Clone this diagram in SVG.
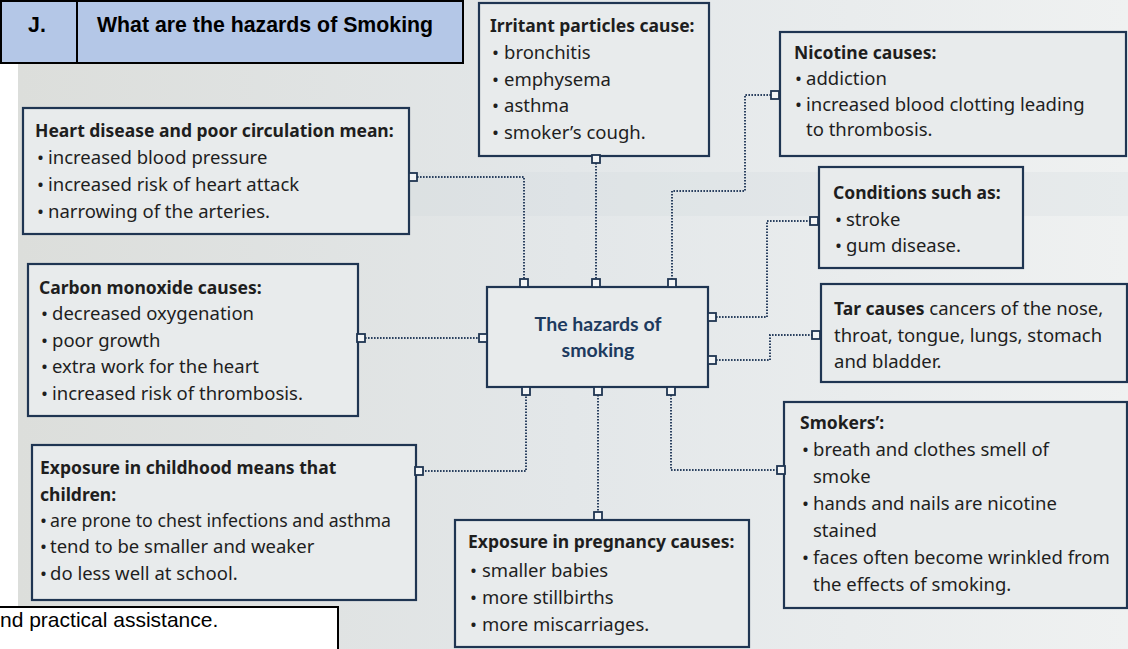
<svg xmlns="http://www.w3.org/2000/svg" width="1128" height="649" viewBox="0 0 1128 649">
<defs>
<linearGradient id="bg" x1="0" y1="0" x2="1" y2="0">
<stop offset="0" stop-color="#dcdedb"/>
<stop offset="0.5" stop-color="#e3e7e9"/>
<stop offset="1" stop-color="#eff1f1"/>
</linearGradient>
<style>
.bx{fill:#e8ebec;stroke:#1f3552;stroke-width:2.2}
.pt{fill:#f3f5f6;stroke:#1f3552;stroke-width:1.8}
.cn{fill:none;stroke:#2b4160;stroke-width:2;stroke-dasharray:1.6 1.4}
.t{font-family:"Noto Sans",Lato,sans-serif;font-size:18.5px;fill:#1e1e1e}
.b{font-weight:700;font-size:17.5px}
.c{font-family:Lato,"Noto Sans",sans-serif;font-weight:700;font-size:19.5px;fill:#1d3a5e;text-anchor:middle}
.h{font-family:"Liberation Sans",Arial,sans-serif;font-weight:700;font-size:21.3px;fill:#000}
</style>
</defs>
<rect x="0" y="0" width="1128" height="649" fill="#ffffff"/>
<rect x="18" y="0" width="1110" height="649" fill="url(#bg)"/>
<rect x="355" y="172" width="773" height="44" fill="#cfd6db" opacity="0.22"/>

<g id="connectors">
<path class="cn" d="M417,177 H524 V279"/>
<path class="cn" d="M596,163 V279"/>
<path class="cn" d="M771,95 H745 V191 H672 V279"/>
<path class="cn" d="M716,317 H767 V221 H810"/>
<path class="cn" d="M716,360 H770 V335 H812"/>
<path class="cn" d="M365,338 H479"/>
<path class="cn" d="M419,471 H526 V395"/>
<path class="cn" d="M598,395 V512"/>
<path class="cn" d="M671,395 V470 H777"/>
</g>

<g id="header">
<rect x="1" y="1" width="462" height="62" fill="#b4c7e7" stroke="#000" stroke-width="2"/>
<line x1="77" y1="1" x2="77" y2="63" stroke="#000" stroke-width="2"/>
<text class="h" x="37" y="32" text-anchor="middle">J.</text>
<text class="h" x="97" y="32">What are the hazards of Smoking</text>
</g>

<g id="heart">
<rect class="bx" x="23" y="108" width="386" height="126"/>
<text class="t b" x="35" y="137">Heart disease and poor circulation mean:</text>
<text class="t" x="37" y="164">•<tspan x="48">increased blood pressure</tspan></text>
<text class="t" x="37" y="191">•<tspan x="48">increased risk of heart attack</tspan></text>
<text class="t" x="37" y="218">•<tspan x="48">narrowing of the arteries.</tspan></text>
<rect class="pt" x="409" y="173" width="8" height="8"/>
</g>

<g id="irritant">
<rect class="bx" x="479" y="3" width="230" height="153"/>
<text class="t b" x="490" y="32">Irritant particles cause:</text>
<text class="t" x="492" y="59">•<tspan x="504">bronchitis</tspan></text>
<text class="t" x="492" y="86">•<tspan x="504">emphysema</tspan></text>
<text class="t" x="492" y="112">•<tspan x="504">asthma</tspan></text>
<text class="t" x="492" y="139">•<tspan x="504">smoker’s cough.</tspan></text>
<rect class="pt" x="592" y="155" width="8" height="8"/>
</g>

<g id="nicotine">
<rect class="bx" x="780" y="32" width="346" height="124"/>
<text class="t b" x="794" y="59">Nicotine causes:</text>
<text class="t" x="795" y="85">•<tspan x="806">addiction</tspan></text>
<text class="t" x="795" y="111">•<tspan x="806">increased blood clotting leading</tspan></text>
<text class="t" x="806" y="136">to thrombosis.</text>
<rect class="pt" x="771" y="91" width="8" height="8"/>
</g>

<g id="conditions">
<rect class="bx" x="819" y="167" width="204" height="101"/>
<text class="t b" x="833" y="199">Conditions such as:</text>
<text class="t" x="835" y="226">•<tspan x="846">stroke</tspan></text>
<text class="t" x="835" y="252">•<tspan x="846">gum disease.</tspan></text>
<rect class="pt" x="810" y="217" width="8" height="8"/>
</g>

<g id="carbon">
<rect class="bx" x="28" y="264" width="330" height="152"/>
<text class="t b" x="39" y="294">Carbon monoxide causes:</text>
<text class="t" x="41" y="320">•<tspan x="52">decreased oxygenation</tspan></text>
<text class="t" x="41" y="347">•<tspan x="52">poor growth</tspan></text>
<text class="t" x="41" y="373">•<tspan x="52">extra work for the heart</tspan></text>
<text class="t" x="41" y="400">•<tspan x="52">increased risk of thrombosis.</tspan></text>
<rect class="pt" x="357" y="334" width="8" height="8"/>
</g>

<g id="centre">
<rect class="bx" x="487" y="287" width="221" height="100"/>
<text class="c" x="598" y="331">The hazards of</text>
<text class="c" x="598" y="357">smoking</text>
<rect class="pt" x="520" y="279" width="8" height="8"/>
<rect class="pt" x="592" y="279" width="8" height="8"/>
<rect class="pt" x="668" y="279" width="8" height="8"/>
<rect class="pt" x="522" y="387" width="8" height="8"/>
<rect class="pt" x="594" y="387" width="8" height="8"/>
<rect class="pt" x="667" y="387" width="8" height="8"/>
<rect class="pt" x="479" y="334" width="8" height="8"/>
<rect class="pt" x="708" y="313" width="8" height="8"/>
<rect class="pt" x="708" y="356" width="8" height="8"/>
</g>

<g id="tar">
<rect class="bx" x="821" y="284" width="306" height="98"/>
<text class="t" x="834" y="315"><tspan class="b">Tar causes</tspan> cancers of the nose,</text>
<text class="t" x="834" y="342">throat, tongue, lungs, stomach</text>
<text class="t" x="834" y="368">and bladder.</text>
<rect class="pt" x="812" y="331" width="8" height="8"/>
</g>

<g id="childhood">
<rect class="bx" x="32" y="445" width="384" height="155"/>
<text class="t b" x="40" y="474">Exposure in childhood means that</text>
<text class="t b" x="40" y="501">children:</text>
<text class="t" x="40" y="527">•<tspan x="50" textLength="341" lengthAdjust="spacingAndGlyphs">are prone to chest infections and asthma</tspan></text>
<text class="t" x="40" y="553">•<tspan x="50">tend to be smaller and weaker</tspan></text>
<text class="t" x="40" y="580">•<tspan x="50">do less well at school.</tspan></text>
<rect class="pt" x="415" y="467" width="8" height="8"/>
</g>

<g id="pregnancy">
<rect class="bx" x="455" y="520" width="294" height="127"/>
<text class="t b" x="468" y="548">Exposure in pregnancy causes:</text>
<text class="t" x="470" y="577">•<tspan x="482">smaller babies</tspan></text>
<text class="t" x="470" y="604">•<tspan x="482">more stillbirths</tspan></text>
<text class="t" x="470" y="631">•<tspan x="482">more miscarriages.</tspan></text>
<rect class="pt" x="594" y="512" width="8" height="8"/>
</g>

<g id="smokers">
<rect class="bx" x="784" y="402" width="343" height="206"/>
<text class="t b" x="800" y="429">Smokers’:</text>
<text class="t" x="802" y="456">•<tspan x="813">breath and clothes smell of</tspan></text>
<text class="t" x="813" y="483">smoke</text>
<text class="t" x="802" y="510">•<tspan x="813">hands and nails are nicotine</tspan></text>
<text class="t" x="813" y="537">stained</text>
<text class="t" x="802" y="564">•<tspan x="813">faces often become wrinkled from</tspan></text>
<text class="t" x="813" y="591">the effects of smoking.</text>
<rect class="pt" x="777" y="466" width="8" height="8"/>
</g>

<g id="note">
<rect x="-2" y="607" width="340" height="50" fill="#ffffff" stroke="#000" stroke-width="2"/>
<text x="0" y="627" font-family="'Liberation Sans',Arial,sans-serif" font-size="21" fill="#000">nd practical assistance.</text>
</g>
</svg>
